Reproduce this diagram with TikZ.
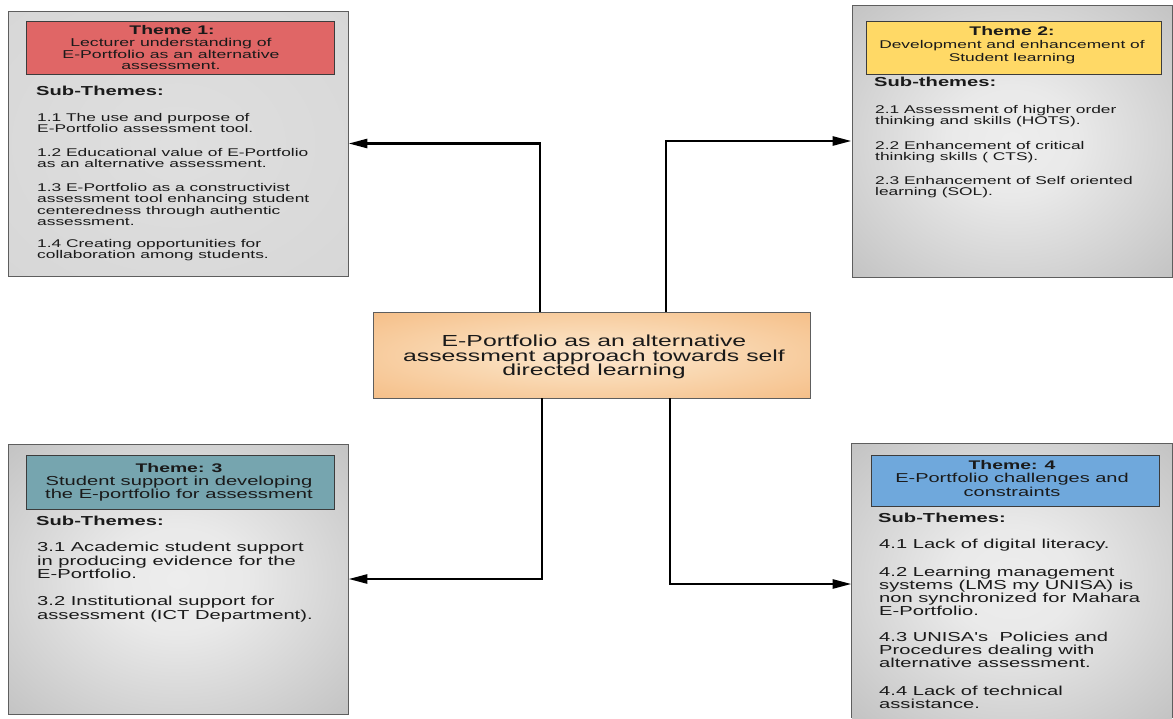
\documentclass[tikz,border=0pt]{standalone}
\usepackage{fontspec}
\setmainfont{Liberation Sans}
\newfontfamily\skfont[FakeStretch=1.55]{Liberation Sans}
\usetikzlibrary{arrows.meta,calc}
\setlength{\lineskiplimit}{-100pt}
\setlength{\lineskip}{0pt}
\definecolor{tred}{HTML}{E06666}
\definecolor{tyel}{HTML}{FFD966}
\definecolor{tteal}{HTML}{76A5AF}
\definecolor{tblue}{HTML}{6FA8DC}
\definecolor{boxline}{HTML}{5E5E5E}
\definecolor{bandline}{HTML}{3C3C3C}
\definecolor{txt}{HTML}{1A1A1A}
\pgfdeclareradialshading{greyshade}{\pgfpoint{0bp}{0bp}}{rgb(0bp)=(0.93,0.93,0.93); rgb(10bp)=(0.915,0.915,0.915); rgb(50bp)=(0.68,0.68,0.68)}
\pgfdeclareradialshading{greyflat}{\pgfpoint{0bp}{0bp}}{rgb(0bp)=(0.875,0.875,0.875); rgb(50bp)=(0.83,0.83,0.83)}
\pgfdeclareradialshading{orangeshade}{\pgfpoint{0bp}{0bp}}{rgb(0bp)=(0.99,0.90,0.80); rgb(12bp)=(0.98,0.86,0.72); rgb(50bp)=(0.95,0.68,0.42)}
\tikzset{
  gbox/.style={rectangle, inner sep=0pt, shade, shading=greyshade, draw=boxline, line width=0.9pt},
  band/.style={rectangle, inner sep=0pt, draw=bandline, line width=1pt},
  conn/.style={draw=black, line width=2.7pt, -{Triangle[length=19pt,width=9pt]}},
  lab/.style={anchor=north, inner sep=0pt, text=txt, font=\skfont\bfseries\fontsize{12.5}{13}\selectfont},
  sub/.style={anchor=north west, inner sep=0pt, text=txt, font=\skfont\bfseries\fontsize{13}{13.5}\selectfont},
  ttl/.style={anchor=north, inner sep=0pt, align=center, text=txt},
  para/.style={anchor=north west, inner sep=0pt, align=left, text=txt},
}
\begin{document}
\begin{tikzpicture}[x=1pt,y=-1pt]
\useasboundingbox (0,0) rectangle (1173,718);
\fill[white] (0,0) rectangle (1173,718);

% outer boxes
\node[gbox, shading=greyflat, minimum width=340pt, minimum height=265pt] (b1) at (178,143.5) {};
\node[gbox, minimum width=320pt, minimum height=272pt] (b2) at (1012,141) {};
\node[gbox, minimum width=340pt, minimum height=270pt] (b3) at (178,579) {};
\node[gbox, draw=none, minimum width=320pt, minimum height=274pt] (b4) at (1012,581) {};
\draw[draw=boxline, line width=0.9pt] (b4.south west) |- (b4.north east) -- (b4.south east);

% title bands
\node[band, fill=tred, minimum width=308pt, minimum height=53pt] (h1) at (180,47.5) {};
\node[band, fill=tyel, minimum width=295pt, minimum height=53pt] (h2) at (1013.5,47.5) {};
\node[band, fill=tteal, minimum width=308pt, minimum height=54pt] (h3) at (180,482) {};
\node[band, fill=tblue, minimum width=288pt, minimum height=51pt] (h4) at (1015,480.5) {};

% centre
\node[rectangle, inner sep=0pt, shade, shading=orangeshade, draw=boxline, line width=0.9pt,
      minimum width=437pt, minimum height=86pt] (ctr) at (591.5,355) {};
\node[ttl, font=\skfont\fontsize{16}{14.5}\selectfont] (ctrtxt) at (594,335.2)
  {E-Portfolio as an alternative\\assessment approach towards self\\directed learning};

% Theme 1
\node[lab] (l1) at (172,25.5) {Theme 1:};
\node[ttl, font=\skfont\fontsize{11.4}{11.7}\selectfont] (l1t) at (171,37.9)
  {Lecturer understanding of\\E-Portfolio as an alternative\\assessment.};
\node[sub] (s1) at (36,86.3) {Sub-Themes:};
\begin{scope}[every node/.append style={font=\skfont\fontsize{11.2}{11.5}\selectfont}]
\node[para] (p11) at (37,113) {1.1 The use and purpose of\\E-Portfolio assessment tool.};
\node[para] (p12) at (37,148) {1.2 Educational value of E-Portfolio\\as an alternative assessment.};
\node[para] (p13) at (37,183) {1.3 E-Portfolio as a constructivist\\assessment tool enhancing student\\centeredness through authentic\\assessment.};
\node[para] (p14) at (37,239) {1.4 Creating opportunities for\\collaboration among students.};
\end{scope}

% Theme 2
\node[lab] (l2) at (1012,26.5) {Theme 2:};
\node[ttl, font=\skfont\fontsize{11.2}{13}\selectfont] (l2t) at (1012,40)
  {Development and enhancement of\\Student learning};
\node[sub] (s2) at (874,77.3) {Sub-themes:};
\begin{scope}[every node/.append style={font=\skfont\fontsize{11.2}{11}\selectfont}]
\node[para] (p21) at (875,105) {2.1 Assessment of higher order\\thinking and skills (HOTS).};
\node[para] (p22) at (875,141) {2.2 Enhancement of critical\\thinking skills ( CTS).};
\node[para] (p23) at (875,176) {2.3 Enhancement of Self oriented\\learning (SOL).};
\end{scope}

% Theme 3
\node[lab] (l3) at (179,463.5) {Theme: 3};
\node[ttl, font=\skfont\fontsize{13}{13}\selectfont] (l3t) at (179,476.3)
  {Student support in developing\\the E-portfolio for assessment};
\node[sub] (s3) at (36,516.3) {Sub-Themes:};
\begin{scope}[every node/.append style={font=\skfont\fontsize{13}{13.5}\selectfont}]
\node[para] (p31) at (37,542.3) {3.1 Academic student support\\in producing evidence for the\\E-Portfolio.};
\node[para] (p32) at (37,596.3) {3.2 Institutional support for\\assessment (ICT Department).};
\end{scope}

% Theme 4
\node[lab] (l4) at (1012,460.5) {Theme: 4};
\node[ttl, font=\skfont\fontsize{12.9}{13.5}\selectfont] (l4t) at (1012,473.4)
  {E-Portfolio challenges and\\constraints};
\node[sub] (s4) at (878,513.3) {Sub-Themes:};
\begin{scope}[every node/.append style={font=\skfont\fontsize{13}{13}\selectfont}]
\node[para] (p41) at (879,539.3) {4.1 Lack of digital literacy.};
\node[para] (p42) at (879,567.3) {4.2 Learning management\\systems (LMS my UNISA) is\\non synchronized for Mahara\\E-Portfolio.};
\node[para] (p43) at (879,632.3) {4.3 UNISA's\ \ Policies and\\Procedures dealing with\\alternative assessment.};
\node[para] (p44) at (879,686.3) {4.4 Lack of technical\\assistance.};
\end{scope}

% connectors
\coordinate (k1) at (540,0);
\coordinate (k2) at (666,0);
\coordinate (k3) at (542,0);
\coordinate (k4) at (670,0);
\draw[conn] (ctr.north -| k1) |- (b1.east);
\draw[conn] (ctr.north -| k2) |- (b2.west);
\draw[conn] (ctr.south -| k3) |- (b3.east);
\draw[conn] (ctr.south -| k4) |- ($(b4.west)+(0,3)$);
\end{tikzpicture}
\end{document}
